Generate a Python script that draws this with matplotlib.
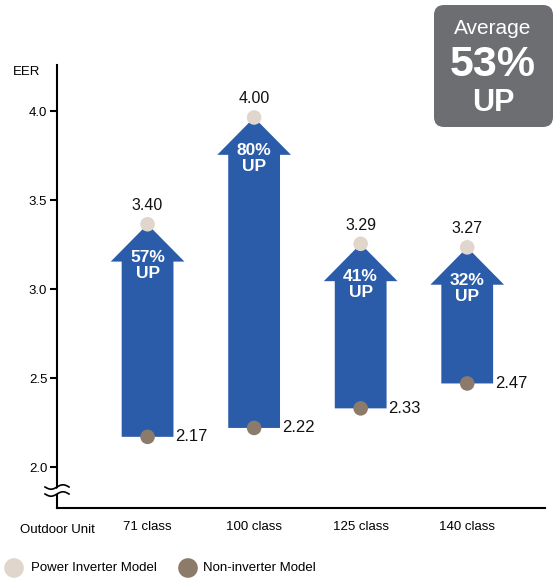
import matplotlib
matplotlib.use('Agg')
import matplotlib.pyplot as plt
from matplotlib.patches import Polygon, FancyBboxPatch
import numpy as np

plt.rcParams['font.family'] = ['Liberation Sans', 'DejaVu Sans']

# data
classes = ['71 class', '100 class', '125 class', '140 class']
inverter = [3.40, 4.00, 3.29, 3.27]
non_inverter = [2.17, 2.22, 2.33, 2.47]
pct_up = ['57%', '80%', '41%', '32%']
yticks = [2.0, 2.5, 3.0, 3.5, 4.0]

blue = '#2a5caa'
light = '#e0d6cc'
dark = '#8c7b6b'

fig = plt.figure(figsize=(5.55, 5.78), dpi=100)
ax = fig.add_axes([57/555, 1-508/578, 488/555, 443/578])
xs = np.arange(1, len(classes) + 1)
ax.set_xlim(0.15, 4.73)
ax.set_ylim(1.77, 4.26)

shaft = 0.243   # half width of arrow shaft
head = 0.346    # half width of arrow head
head_h = 0.21   # head height in EER
shift = 0.035   # top marker sits a bit below the tip value

for x, hi, lo, p in zip(xs, inverter, non_inverter, pct_up):
    tip = hi - shift
    pts = [(x - shaft, lo), (x + shaft, lo), (x + shaft, tip - head_h),
           (x + head, tip - head_h), (x, tip), (x - head, tip - head_h),
           (x - shaft, tip - head_h)]
    ax.add_patch(Polygon(pts, closed=True, facecolor=blue, edgecolor='none', zorder=2))
    ax.scatter([x], [tip], s=110, color=light, zorder=3, edgecolors='none')
    ax.scatter([x], [lo], s=110, color=dark, zorder=3, edgecolors='none')
    ax.annotate(f'{hi:.2f}', (x, tip), xytext=(0, 13.5), textcoords='offset points',
                ha='center', va='center', fontsize=11.5, color='#111111')
    ax.annotate(f'{lo:.2f}', (x, lo), xytext=(20, 0), textcoords='offset points',
                ha='left', va='center', fontsize=12, color='#111111')
    ax.annotate(f'{p}\nUP', (x, tip), xytext=(0, -29.5), textcoords='offset points',
                ha='center', va='center', fontsize=12.5, fontweight='bold',
                color='white', linespacing=1.05)

ax.spines['top'].set_visible(False)
ax.spines['right'].set_visible(False)
ax.spines['left'].set_linewidth(1.5)
ax.spines['bottom'].set_linewidth(1.5)
ax.set_yticks(yticks)
ax.set_yticklabels([f'{v:.1f}' for v in yticks], fontsize=9.5)
ax.tick_params(axis='y', length=5, width=1.5, pad=2)
ax.set_xticks(xs)
ax.set_xticklabels(classes, fontsize=9.5)
ax.tick_params(axis='x', length=0, pad=9)

ax.text(-0.035, 1.0 - 7/443, 'EER', transform=ax.transAxes, ha='right', va='center', fontsize=9.5)
ax.text(0.0, -0.035, 'Outdoor Unit', transform=ax.transAxes, ha='center', va='top', fontsize=9.5)

# axis break
t = np.linspace(-12, 12, 50)
wave = 2.2 * np.sin(t / 12 * np.pi) / 443
for dy in (0, 7):
    yy = 1 - (487 + dy - 65) / 443 + wave
    ax.plot(t / 488, yy, color='black', lw=1.2, transform=ax.transAxes, clip_on=False, zorder=5)
ax.fill_between(t / 488, 1 - (487 - 65) / 443 + wave - 1.5/443,
                1 - (494 - 65) / 443 + wave + 1.5/443,
                color='white', transform=ax.transAxes, clip_on=False, zorder=4)

# overlay in pixel units for badge and legend
px = fig.add_axes([0, 0, 1, 1], facecolor='none')
px.set_xlim(0, 555)
px.set_ylim(0, 578)
px.axis('off')

px.add_patch(FancyBboxPatch((434, 578 - 127), 119, 122,
                            boxstyle='round,pad=0,rounding_size=10',
                            facecolor='#6d6e71', edgecolor='none'))
px.text(493, 578 - 28, 'Average', ha='center', va='center', fontsize=15, color='white')
px.text(493, 578 - 65, '53%', ha='center', va='center', fontsize=31, fontweight='bold', color='white')
px.text(493, 578 - 103, 'UP', ha='center', va='center', fontsize=22, fontweight='bold', color='white')

# legend
px.scatter([14, 188], [578 - 568, 578 - 568], s=200, color=[light, dark], edgecolors='none')
px.text(31, 578 - 568, 'Power Inverter Model', ha='left', va='center', fontsize=9.5)
px.text(203, 578 - 568, 'Non-inverter Model', ha='left', va='center', fontsize=9.5)

fig.savefig('out.png', dpi=100)
